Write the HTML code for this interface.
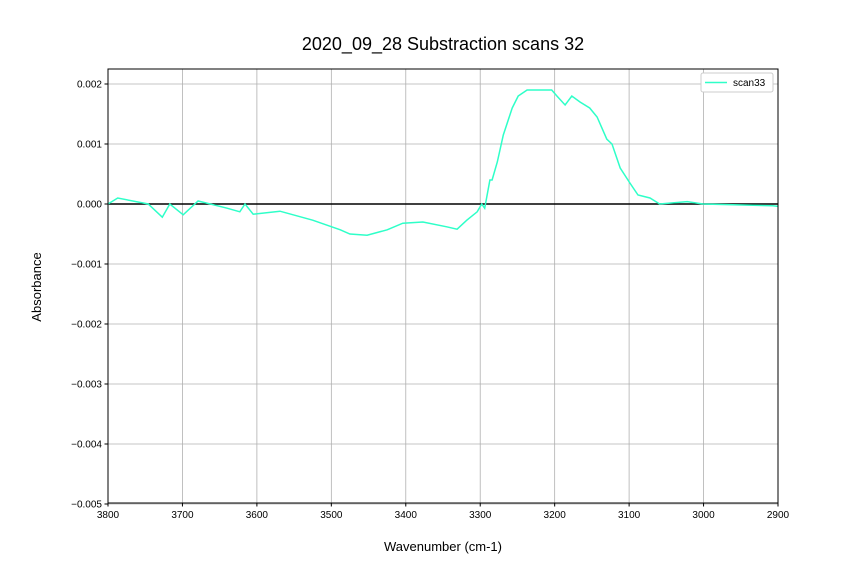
<!DOCTYPE html>
<html><head><meta charset="utf-8"><style>
body{margin:0;background:#fff;}
svg{display:block;font-family:"Liberation Sans","DejaVu Sans",sans-serif;}
</style></head><body>
<svg id="chart" width="864" height="576">
<text x="443" y="50" text-anchor="middle" font-size="18">2020_09_28 Substraction scans 32</text>
<text x="443" y="551" text-anchor="middle" font-size="13">Wavenumber (cm-1)</text>
<text transform="translate(41,287) rotate(-90)" text-anchor="middle" font-size="13">Absorbance</text>
<g id="grid"></g><g id="ticks"></g><g id="series"></g>
<rect x="108" y="69" width="670" height="434" fill="none" stroke="#000" stroke-width="1"/>
<g>
<rect x="701" y="73" width="72" height="19" rx="2" fill="#fff" stroke="#ccc"/>
<line x1="705" y1="82.5" x2="727" y2="82.5" stroke="#2effc8" stroke-width="1.5"/>
<text x="733" y="86" font-size="10">scan33</text>
</g>
</svg>
<script>
const xTicks=[3800,3700,3600,3500,3400,3300,3200,3100,3000,2900];
const yTicks=[0.002,0.001,0,-0.001,-0.002,-0.003,-0.004,-0.005];
const yTickLabels=["0.002","0.001","0.000","\u22120.001","\u22120.002","\u22120.003","\u22120.004","\u22120.005"];
const wavenumbers=[3800,3787,3746,3727,3717,3699,3679,3640,3623,3616,3605,3569,3525,3488,3475,3452,3425,3404,3377,3345,3331,3318,3304,3298,3294,3287,3284,3277,3269,3257,3249,3237,3220,3204,3197,3186,3177,3166,3153,3143,3130,3123,3112,3099,3088,3072,3059,3022,3001,2907,2900];
const absorbance=[0,0.0001,0,-0.00022,0,-0.00018,0.00005,-0.00007,-0.00013,0,-0.00017,-0.00012,-0.00027,-0.00043,-0.0005,-0.00052,-0.00043,-0.00032,-0.0003,-0.00038,-0.00042,-0.00027,-0.00013,0,-0.00007,0.0004,0.0004,0.0007,0.00115,0.0016,0.0018,0.0019,0.0019,0.0019,0.0018,0.00165,0.0018,0.0017,0.0016,0.00145,0.00108,0.001,0.0006,0.00035,0.00015,0.0001,0,0.00004,0,-0.00003,-0.00004];
const X0=108,X1=778,Y0=503,Y1=69;
const xs=w=>X0+(3800-w)*(X1-X0)/900;
const ys=v=>204-v*60000;
const NS="http://www.w3.org/2000/svg";
function mk(t,a,p){const e=document.createElementNS(NS,t);for(const k in a)e.setAttribute(k,a[k]);p.appendChild(e);return e;}
const grid=document.getElementById('grid'),ticks=document.getElementById('ticks'),ser=document.getElementById('series');
xTicks.forEach(t=>{const x=xs(t);
const g=mk('line',{x1:x,x2:x,y1:Y1,y2:Y0,stroke:'#b0b0b0','stroke-width':0.8},grid);


mk('line',{x1:x,x2:x,y1:Y0,y2:Y0+3.5,stroke:'#000'},ticks);
const tx=mk('text',{x:x,y:Y0+15,'text-anchor':'middle','font-size':10},ticks);tx.textContent=t;

});
yTicks.forEach((t,i)=>{const y=ys(t);
const g=mk('line',{x1:X0,x2:X1,y1:y,y2:y,stroke:'#b0b0b0','stroke-width':0.8},grid);


mk('line',{x1:X0-3.5,x2:X0,y1:y,y2:y,stroke:'#000'},ticks);
const tx=mk('text',{x:X0-6,y:y+3.5,'text-anchor':'end','font-size':10},ticks);tx.textContent=yTickLabels[i];

});
const z=mk('line',{x1:X0,x2:X1,y1:ys(0),y2:ys(0),stroke:'#000','stroke-width':1.5},ser);


const d=wavenumbers.map((w,i)=>(i?'L':'M')+xs(w).toFixed(1)+','+ys(absorbance[i]).toFixed(1)).join('');
const p=mk('path',{d:d,fill:'none',stroke:'#2effc8','stroke-width':1.5},ser);


</script>
</body></html>
